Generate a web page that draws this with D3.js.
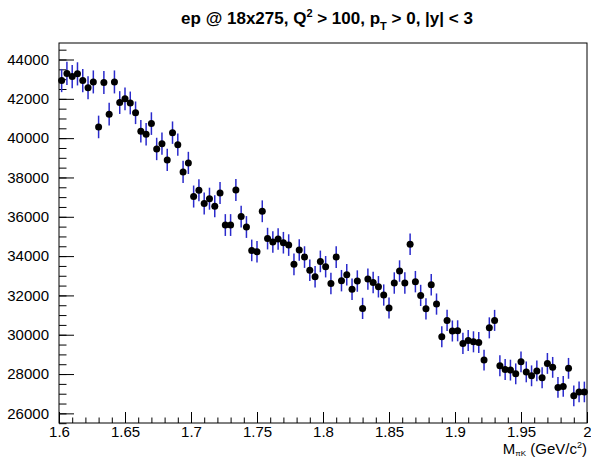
<!DOCTYPE html>
<html>
<head>
<meta charset="utf-8">
<script src="https://cdn.jsdelivr.net/npm/d3@7"></script>
<style>
  html, body { margin: 0; padding: 0; background: #fff; }
  svg { display: block; }
  text { font-family: "Liberation Sans", Arial, Helvetica, sans-serif; fill: #000; }
</style>
</head>
<body>
<svg id="chart" width="591" height="459"></svg>
<script>
// ---- data ----
const binLow = 1.6, binWidth = 0.004, nBins = 100;
const counts = [
  42930, 43290, 43130, 43270, 42930, 42560, 42860, 40570, 42830, 41220,
  42860, 41810, 42000, 41790, 41290, 40350, 40200, 40740, 39450, 39720,
  38890, 40280, 39670, 38280, 38740, 37030, 37350, 36670, 36920, 36530,
  37210, 35580, 35580, 37360, 36010, 35480, 34290, 34220, 36280, 34890,
  34720, 34870, 34680, 34560, 33580, 34310, 33950, 33280, 32950, 33730,
  33460, 32610, 33950, 32750, 33050, 32310, 32730, 31340, 32830, 32660,
  32440, 32020, 31360, 32630, 33240, 32630, 34600, 32700, 32000, 31320,
  32540, 31560, 29900, 30730, 30190, 30200, 29560, 29710, 29640, 29610,
  28710, 30350, 30730, 28420, 28230, 28200, 28010, 28620, 28110, 27910,
  28160, 27810, 28540, 28340, 27320, 27370, 28290, 26890, 27090, 27090
];
const errors = [
  590, 590, 590, 590, 590, 585, 585, 575, 585, 580,
  585, 580, 580, 580, 575, 575, 575, 575, 570, 570,
  565, 570, 570, 565, 565, 560, 560, 560, 560, 560,
  560, 555, 555, 560, 555, 555, 550, 550, 555, 550,
  550, 550, 550, 550, 550, 550, 550, 545, 545, 550,
  545, 545, 550, 545, 545, 545, 545, 540, 545, 545,
  545, 540, 540, 545, 545, 545, 550, 545, 540, 540,
  545, 540, 535, 535, 535, 535, 535, 535, 535, 535,
  530, 535, 535, 530, 530, 530, 530, 530, 530, 530,
  530, 530, 530, 530, 525, 525, 530, 525, 525, 525
];
const xTickLabels = ["1.6", "1.65", "1.7", "1.75", "1.8", "1.85", "1.9", "1.95", "2"];
const yTickLabels = ["26000", "28000", "30000", "32000", "34000", "36000", "38000", "40000", "42000", "44000"];

// ---- layout ----
const L = 59, R = 587, T = 43, B = 423;
const svg = d3.select("#chart");

const x = d3.scaleLinear().domain([1.6, 2.0]).range([L, R]);
const y = d3.scaleLinear().domain([25510, 44840]).range([B, T]);

const bins = d3.range(nBins).map(i => ({
  x: binLow + (i + 0.5) * binWidth,
  v: counts[i],
  e: errors[i]
}));

// Axes
const xMajor = xTickLabels.map(Number);
const xMinor = d3.range(160, 201).map(d => d / 100);
const yMajor = yTickLabels.map(Number);
const yMinor = d3.range(25500, 44850, 500);

const fontSize = 15;

const gx = svg.append("g").attr("transform", `translate(0,${B})`);
gx.append("g").call(d3.axisBottom(x).tickValues(xMinor).tickSize(-5.5).tickFormat(""))
  .call(g => g.select(".domain").remove());
gx.append("g").call(d3.axisBottom(x).tickValues(xMajor).tickSize(-11).tickPadding(3)
    .tickFormat((d, i) => xTickLabels[i]))
  .call(g => g.select(".domain").remove())
  .call(g => g.selectAll("text").attr("font-size", fontSize).attr("fill", "#000"));

const gy = svg.append("g").attr("transform", `translate(${L},0)`);
gy.append("g").call(d3.axisLeft(y).tickValues(yMinor).tickSize(-7.5).tickFormat(""))
  .call(g => g.select(".domain").remove());
gy.append("g").call(d3.axisLeft(y).tickValues(yMajor).tickSize(-15).tickPadding(10)
    .tickFormat((d, i) => yTickLabels[i]))
  .call(g => g.select(".domain").remove())
  .call(g => g.selectAll("text").attr("font-size", fontSize).attr("fill", "#000"));

svg.selectAll(".tick line").attr("stroke", "#000");

// Frame
svg.append("rect").attr("x", L).attr("y", T).attr("width", R - L).attr("height", B - T)
  .attr("fill", "none").attr("stroke", "#000").attr("stroke-width", 1);

// Error bars
svg.append("g").selectAll("line").data(bins).join("line")
  .attr("x1", d => x(d.x)).attr("x2", d => x(d.x))
  .attr("y1", d => y(d.v - d.e)).attr("y2", d => y(d.v + d.e))
  .attr("stroke", "#2a2acc").attr("stroke-width", 1.5);

// Markers
svg.append("g").selectAll("circle").data(bins).join("circle")
  .attr("cx", d => x(d.x)).attr("cy", d => y(d.v)).attr("r", 3.5)
  .attr("fill", "#000");

// Title
const title = svg.append("text").attr("x", 327).attr("y", 24)
  .attr("text-anchor", "middle").attr("font-size", 17).attr("font-weight", "bold");
title.append("tspan").text("ep @ 18x275, Q");
title.append("tspan").attr("font-size", 11).attr("dy", -7).text("2");
title.append("tspan").attr("dy", 7).text(" > 100, p");
title.append("tspan").attr("font-size", 11).attr("dy", 6).text("T");
title.append("tspan").attr("dy", -6).text(" > 0, |y| < 3");

// X axis title
const xt = svg.append("text").attr("x", R).attr("y", 454)
  .attr("text-anchor", "end").attr("font-size", fontSize);
xt.append("tspan").text("M");
xt.append("tspan").attr("font-size", 8).attr("dy", 2).text("πK");
xt.append("tspan").attr("dy", -2).text(" (GeV/c");
xt.append("tspan").attr("font-size", 9).attr("dy", -6).text("2");
xt.append("tspan").attr("dy", 6).text(")");
</script>
</body>
</html>
